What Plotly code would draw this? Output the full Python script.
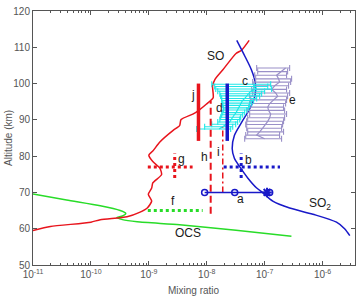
import numpy as np
import plotly.graph_objects as go

# ---------------- data ----------------
so_val = [1.0e-11, 2.0e-11, 1.0e-10, 1.45e-10, 4.2e-10, 6.9e-10, 9.5e-10, 1.12e-9, 9.8e-10, 1.12e-9,
          1.17e-9, 1.66e-9, 1.55e-9, 1.17e-9, 1.0e-9, 1.17e-9, 1.55e-9, 2.63e-9, 3.4e-9, 3.6e-9,
          5.75e-9, 7.1e-9, 9.8e-9, 1.29e-8, 1.26e-8, 1.38e-8, 1.9e-8, 3.2e-8, 4.0e-8, 5.4e-8]
so_alt = [59.5, 60.6, 61.8, 62.5, 63.3, 64.5, 65.8, 67.6, 69.5, 71.2,
          72.6, 74.9, 76.7, 78.5, 80.3, 81.4, 83.9, 87.1, 88.4, 90.1,
          91.6, 92.5, 94.3, 96.1, 99.3, 101.1, 103.8, 108.3, 109.2, 111.9]

so2_val = [2.95e-6, 2.4e-6, 1.74e-6, 6.8e-7, 2.7e-7, 1.38e-7, 9.3e-8, 7.2e-8, 5.1e-8, 3.7e-8,
           3.0e-8, 2.75e-8, 3.0e-8, 4.0e-8, 5.5e-8, 6.8e-8, 6.9e-8, 5.9e-8, 4.6e-8, 3.3e-8]
so2_alt = [58.1, 60.0, 61.8, 64.0, 65.7, 67.6, 69.9, 71.3, 74.0, 77.1,
           79.4, 82.1, 85.7, 89.3, 93.0, 96.6, 100.2, 103.8, 107.4, 111.9]

ocs_val = [1e-11, 3.8e-11, 1.45e-10, 3.2e-10, 4.0e-10, 3.5e-10, 2.8e-10, 3.5e-10, 6.3e-10, 3.4e-9, 3.2e-8, 2.9e-7]
ocs_alt = [69.6, 67.9, 66.3, 65.0, 64.2, 63.5, 63.1, 62.5, 61.9, 61.1, 59.6, 57.9]

# c : cyan profile (low / high bounds)
cyan_alt = [99.8, 99.2, 98.5, 97.9, 97.2, 96.6, 95.9, 95.3, 94.6, 94.0,
            93.3, 92.7, 92.0, 91.4, 90.7, 90.1, 89.4, 88.8, 88.1, 87.5]
cyan_lo = [1.22e-8, 1.37e-8, 1.43e-8, 1.55e-8, 1.68e-8, 1.74e-8, 1.81e-8, 1.81e-8, 1.89e-8, 1.89e-8,
           1.96e-8, 1.96e-8, 1.89e-8, 1.81e-8, 1.74e-8, 1.68e-8, 1.55e-8, 1.22e-8, 9.2e-9, 6.7e-9]
cyan_hi = [1.27e-7, 1.13e-7, 1.32e-7, 1.0e-7, 8.87e-8, 8.2e-8, 7.28e-8, 6.46e-8, 5.97e-8, 5.51e-8,
           5.3e-8, 4.9e-8, 4.52e-8, 4.18e-8, 3.86e-8, 3.71e-8, 3.42e-8, 3.16e-8, 2.81e-8, 2.59e-8]

# e : purple profile
pur_alt = [104.3, 103.3, 102.3, 101.3, 100.4, 99.4, 98.4, 97.4, 96.5, 95.5, 94.5,
           93.5, 92.6, 91.6, 90.6, 89.6, 88.7, 87.7, 86.7, 85.8, 84.8]
pur_val = [2.30e-7, 1.96e-7, 1.61e-7, 1.74e-7, 1.81e-7, 1.49e-7, 1.32e-7, 1.55e-7, 1.68e-7, 1.43e-7, 1.22e-7,
           1.13e-7, 1.17e-7, 1.27e-7, 1.22e-7, 1.13e-7, 1.04e-7, 9.25e-8, 8.2e-8, 7.28e-8, 1.0e-7]
pur_lo = [7.28e-8, 7.58e-8, 6.73e-8, 7.0e-8, 6.21e-8, 6.46e-8, 5.97e-8, 6.21e-8, 5.51e-8, 5.74e-8, 5.51e-8,
          5.3e-8, 5.09e-8, 5.51e-8, 5.09e-8, 4.9e-8, 4.71e-8, 4.9e-8, 5.09e-8, 4.71e-8, 4.52e-8]
pur_hi = [2.70e-7, 2.49e-7, 2.39e-7, 2.92e-7, 2.81e-7, 2.59e-7, 2.39e-7, 2.70e-7, 2.49e-7, 2.39e-7, 2.30e-7,
          2.12e-7, 2.21e-7, 2.39e-7, 2.21e-7, 2.12e-7, 2.04e-7, 1.96e-7, 2.12e-7, 1.81e-7, 1.96e-7]

# a : SO2 at 70 km
a_val = [9.2e-9, 3.04e-8, 1.22e-7]
a_alt = 70
a_star = 1.1e-7
# b : SO2 at 77 km
b_range = [1.96e-8, 1.84e-7]
b_val = 3.93e-8
b_alt = 77
b_alt_range = [74.0, 80.7]
# g : SO at 77 km
g_range = [9.6e-10, 5.7e-9]
g_val = 2.8e-9
g_alt = 77
g_alt_range = [74.0, 80.7]
# f : OCS at 65 km
f_range = [9.6e-10, 8.5e-9]
f_alt = 65
# h, i : SO upper limits
h_val = 1.17e-8
h_alt_range = [64.1, 95.2]
i_val = 1.89e-8
i_alt_range = [70.0, 88.0]
# j, d : column values 84-100 km
j_val = 7.2e-9
d_val = 2.26e-8
jd_alt_range = [84.2, 100.0]

labels = ["SO", "SO<sub>2</sub>", "OCS", "a", "b", "c", "d", "e", "f", "g", "h", "i", "j"]
label_x = [1.43e-8, 8.9e-7, 4.7e-9, 3.9e-8, 5.2e-8, 4.5e-8, 1.66e-8, 3.0e-7, 2.6e-9, 3.7e-9, 9.3e-9, 1.62e-8, 5.8e-9]
label_y = [107.5, 66.8, 58.7, 68.2, 79.0, 100.7, 93.4, 95.6, 67.6, 79.3, 79.85, 81.2, 96.9]

xtick_vals = [1e-11, 1e-10, 1e-9, 1e-8, 1e-7, 1e-6]
xtick_text = ["10<sup>-11</sup>", "10<sup>-10</sup>", "10<sup>-9</sup>", "10<sup>-8</sup>",
              "10<sup>-7</sup>", "10<sup>-6</sup>"]
ytick_vals = [50, 60, 70, 80, 90, 100, 110, 120]

RED = "#e8141c"
BLUE = "#1818c8"
GREEN = "#28dc28"
CYAN = "#20e8e8"
PURPLE = "#9a90c8"

fig = go.Figure()

# main model curves
fig.add_trace(go.Scatter(x=ocs_val, y=ocs_alt, mode="lines", line=dict(color=GREEN, width=1.5, shape="spline", smoothing=0.6)))
fig.add_trace(go.Scatter(x=so_val, y=so_alt, mode="lines", line=dict(color=RED, width=1.5, shape="spline", smoothing=0.6)))
fig.add_trace(go.Scatter(x=so2_val, y=so2_alt, mode="lines", line=dict(color=BLUE, width=1.5, shape="spline", smoothing=0.8)))

# e purple error bars
pv = np.array(pur_val)
fig.add_trace(go.Scatter(
    x=pur_val, y=pur_alt, mode="lines", line=dict(color=PURPLE, width=1.2),
    error_x=dict(type="data", symmetric=False, array=list(np.array(pur_hi) - pv),
                 arrayminus=list(pv - np.array(pur_lo)), color=PURPLE, thickness=1.1, width=3)))

# c cyan error bars
clo = np.array(cyan_lo)
chi = np.array(cyan_hi)
cc = (clo + chi) / 2
fig.add_trace(go.Scatter(
    x=list(cc), y=cyan_alt, mode="lines", line=dict(color=CYAN, width=1.2),
    error_x=dict(type="data", symmetric=False, array=list(chi - cc), arrayminus=list(cc - clo),
                 color=CYAN, thickness=1.1, width=3)))

# j and d thick bars
fig.add_trace(go.Scatter(x=[j_val, j_val], y=jd_alt_range, mode="lines", line=dict(color=RED, width=3.5)))
fig.add_trace(go.Scatter(x=[d_val, d_val], y=jd_alt_range, mode="lines", line=dict(color=BLUE, width=3.5)))

# h, i
fig.add_trace(go.Scatter(x=[h_val, h_val], y=h_alt_range, mode="lines", line=dict(color=RED, width=2, dash="7px,4px")))
fig.add_trace(go.Scatter(x=[i_val, i_val], y=i_alt_range, mode="lines", line=dict(color=RED, width=1.5, dash="6px,3px,2px,3px")))

# g
fig.add_trace(go.Scatter(x=g_range, y=[g_alt, g_alt], mode="lines", line=dict(color=RED, width=3, dash="dot")))
fig.add_trace(go.Scatter(x=[g_val, g_val], y=g_alt_range, mode="lines", line=dict(color=RED, width=3, dash="dot")))
# f
fig.add_trace(go.Scatter(x=f_range, y=[f_alt, f_alt], mode="lines", line=dict(color=GREEN, width=3, dash="dot")))
# b
fig.add_trace(go.Scatter(x=b_range, y=[b_alt, b_alt], mode="lines", line=dict(color=BLUE, width=3, dash="dot")))
fig.add_trace(go.Scatter(x=[b_val, b_val], y=b_alt_range, mode="lines", line=dict(color=BLUE, width=3, dash="dot")))
# a
fig.add_trace(go.Scatter(x=a_val, y=[a_alt] * len(a_val), mode="lines+markers",
                         line=dict(color=BLUE, width=1.5),
                         marker=dict(symbol="circle-open", size=6, color=BLUE, line=dict(width=1.5, color=BLUE))))
fig.add_trace(go.Scatter(x=[a_star], y=[a_alt], mode="markers",
                         marker=dict(symbol="asterisk-open", size=8, color=BLUE, line=dict(width=2, color=BLUE))))

for t, x, y in zip(labels, label_x, label_y):
    fig.add_annotation(x=np.log10(x), y=y, text=t, showarrow=False,
                       font=dict(size=12, color="#1a1a1a", family="Arial"))

fig.add_annotation(xref="paper", yref="paper", x=0, y=0.5, xshift=-25, xanchor="center", yanchor="middle",
                   text="Altitude (km)", textangle=-90, showarrow=False,
                   font=dict(size=10, color="#555", family="Arial"))
fig.add_annotation(xref="paper", yref="paper", x=0.5, y=0, yshift=-25, xanchor="center", yanchor="middle",
                   text="Mixing ratio", showarrow=False, font=dict(size=10, color="#555", family="Arial"))

minor_vals = [k * 10.0 ** e for e in range(-11, -5) for k in range(2, 10)]

fig.update_layout(
    width=361, height=296, margin=dict(l=33, r=5, t=7, b=31),
    paper_bgcolor="white", plot_bgcolor="white", showlegend=False,
    font=dict(family="Arial", size=10, color="#555"),
    xaxis=dict(type="log", range=[-11, -5.44], tickvals=xtick_vals, ticktext=xtick_text,
               ticks="inside", ticklen=4, tickcolor="#555", mirror="allticks", showline=True,
               linecolor="#555", linewidth=1, showgrid=False, zeroline=False,
               tickfont=dict(size=10, color="#555"),
               minor=dict(tickvals=minor_vals, ticks="inside", ticklen=2, tickcolor="#555", showgrid=False)),
    yaxis=dict(range=[50, 120], tickvals=ytick_vals, ticks="inside", ticklen=4, tickcolor="#555",
               mirror="allticks", showline=True, linecolor="#555", linewidth=1, showgrid=False,
               zeroline=False, tickfont=dict(size=10, color="#555")),
)

fig.write_html("out.html")
